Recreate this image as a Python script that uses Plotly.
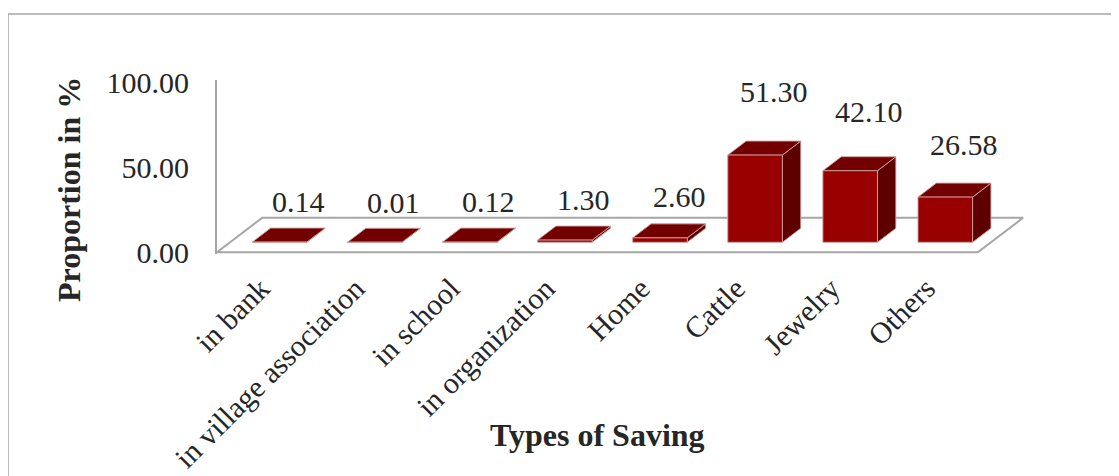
import plotly.graph_objects as go

# ---- data ----
categories = ["in bank", "in village association", "in school", "in organization",
              "Home", "Cattle", "Jewelry", "Others"]
values = [0.14, 0.01, 0.12, 1.30, 2.60, 51.30, 42.10, 26.58]
y_ticks = [0, 50, 100]

# ---- geometry / style (pseudo-3D projection) ----
W, H = 1119, 476
OFF = 8                               # page body margin compensation
PW, PH = 813, 174
ML, MT = 217 - OFF, 80 - OFF
MR, MB = W - ML - PW, H - MT - PH
XR = [-0.5, -0.5 + PW / 95.1]
YR = [-1.0, -1.0 + PH / 1.7]
DX, DY = 0.476, 20.3          # full floor depth offset in data units
F0, F1 = 0.29, 0.696          # bar front / back depth fraction
HW = 0.287                    # bar half width
XS = 0.02                     # bar centre shift
FONT = "Liberation Serif, Times New Roman, serif"
TXT = "#262626"
GRAY = "#a6a6a6"


def proj(x, y, d):
    return x + d * DX, y + d * DY


def px2paper(px, py):
    return (px - OFF - ML) / PW, (MT + PH - (py - OFF)) / PH


def poly(pts, xs, ys):
    for (x, y, d) in pts + [pts[0]]:
        px, py = proj(x, y, d)
        xs.append(px)
        ys.append(py)
    xs.append(None)
    ys.append(None)


n = len(categories)
floor_x, floor_y = [], []
poly([(-0.5, 0, 0), (n - 0.5, 0, 0), (n - 0.5, 0, 1), (-0.5, 0, 1)], floor_x, floor_y)

fx, fy, tx, ty, sx, sy = [], [], [], [], [], []
for i, v in enumerate(values):
    c = i + XS
    poly([(c - HW, 0, F0), (c + HW, 0, F0), (c + HW, v, F0), (c - HW, v, F0)], fx, fy)
    poly([(c - HW, v, F0), (c + HW, v, F0), (c + HW, v, F1), (c - HW, v, F1)], tx, ty)
    poly([(c + HW, 0, F0), (c + HW, 0, F1), (c + HW, v, F1), (c + HW, v, F0)], sx, sy)

fig = go.Figure()
fig.add_trace(go.Scatter(x=floor_x, y=floor_y, mode="lines", fill="toself",
                         fillcolor="white", line=dict(color=GRAY, width=2),
                         hoverinfo="skip", showlegend=False))
edge = dict(color="rgba(205,160,160,0.9)", width=1)
fig.add_trace(go.Scatter(x=sx, y=sy, mode="lines", fill="toself", fillcolor="#5e0000",
                         line=edge, hoverinfo="skip", showlegend=False))
fig.add_trace(go.Scatter(x=tx, y=ty, mode="lines", fill="toself", fillcolor="#730000",
                         line=edge, hoverinfo="skip", showlegend=False))
fig.add_trace(go.Scatter(x=fx, y=fy, mode="lines", fill="toself", fillcolor="#990000",
                         line=edge, hoverinfo="skip", showlegend=False))

annotations = []
for i, v in enumerate(values):
    annotations.append(dict(x=i + XS + F0 * DX + 0.2, y=1.27 * v + 29.5, xref="x", yref="y",
                            text=f"{v:.2f}", showarrow=False, xanchor="center",
                            yanchor="middle", font=dict(family=FONT, size=30, color=TXT)))

ax, ay = px2paper(69, 190)
annotations.append(dict(x=ax, y=ay, xref="paper", yref="paper", text="<b>Proportion in %</b>",
                        textangle=-90, showarrow=False, xanchor="center", yanchor="middle",
                        font=dict(family=FONT, size=32, color=TXT)))
bx, by = px2paper(597, 435)
annotations.append(dict(x=bx, y=by, xref="paper", yref="paper", text="<b>Types of Saving</b>",
                        showarrow=False, xanchor="center", yanchor="middle",
                        font=dict(family=FONT, size=32, color=TXT)))

b0x, b0y = px2paper(8, 14)
b1x, b1y = px2paper(1140, 500)

fig.update_layout(
    width=W, height=H,
    margin=dict(l=ML, r=MR, t=MT, b=MB, autoexpand=False),
    paper_bgcolor="white", plot_bgcolor="white",
    showlegend=False,
    annotations=annotations,
    shapes=[dict(type="rect", xref="paper", yref="paper", x0=b0x, y0=b1y, x1=b1x, y1=b0y,
                 line=dict(color=GRAY, width=1.5), fillcolor="rgba(0,0,0,0)", layer="below")],
    xaxis=dict(range=XR, showgrid=False, zeroline=False, showline=False, automargin=False,
               tickmode="array", tickvals=[i - 0.04 for i in range(n)], ticktext=categories,
               tickangle=-45, ticks="", ticklabelstandoff=10,
               tickfont=dict(family=FONT, size=30, color=TXT), fixedrange=True),
    yaxis=dict(range=YR, showgrid=False, zeroline=False, showline=True, automargin=False,
               linecolor=GRAY, linewidth=2,
               tickmode="array", tickvals=y_ticks, ticktext=[f"{t:.2f}" for t in y_ticks],
               ticks="", ticklabelstandoff=20,
               tickfont=dict(family=FONT, size=30, color=TXT), fixedrange=True),
)

fig.write_html("out.html")
